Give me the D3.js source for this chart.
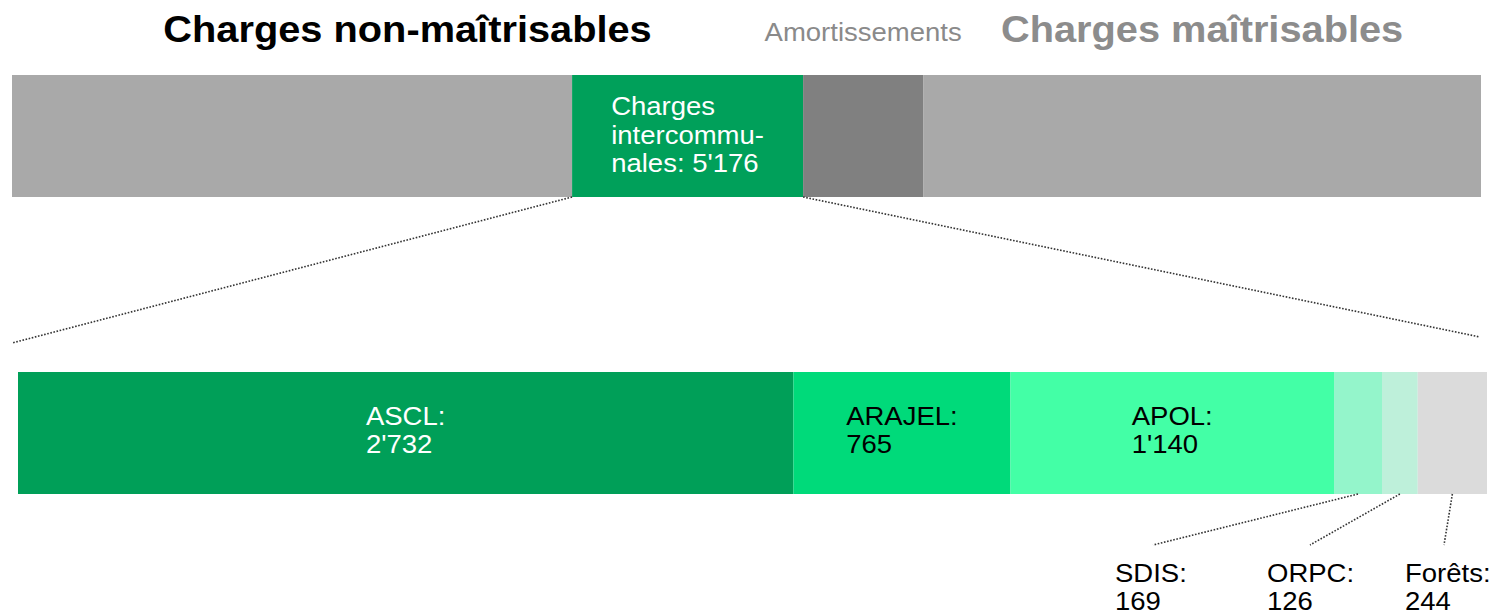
<!DOCTYPE html>
<html>
<head>
<meta charset="utf-8">
<script src="https://cdn.jsdelivr.net/npm/d3@7"></script>
<style>
  body { margin: 0; background: #fff; }
  text { font-family: "Liberation Sans", Arial, sans-serif; }
</style>
</head>
<body>
<div id="chart"></div>
<script>
// top bar: total charges split in 4 parts
const topParts = ["Autres charges non-maîtrisables", "Charges intercommunales", "Amortissements", "Charges maîtrisables"]
const topValues = [12550, 5176, 2690, 12500]
const topColors = ["#a9a9a9", "#00a05a", "#808080", "#a9a9a9"]

// headings above the top bar and which parts they cover
const headings = ["Charges non-maîtrisables", "Amortissements", "Charges maîtrisables"]
const headingParts = [[0, 1], [2, 2], [3, 3]]

// detail of the intercommunal charges
const subParts = ["ASCL", "ARAJEL", "APOL", "SDIS", "ORPC", "Forêts"]
const subValues = [2732, 765, 1140, 169, 126, 244]
const subColors = ["#009f58", "#00da7a", "#43ffa6", "#94f5cb", "#bef0da", "#dbdbdb"]
const outsideParts = ["SDIS", "ORPC", "Forêts"]

const W = 1495, H = 614
const STRETCH = 1.1   // the source is a bit wider than tall
const TOP = {x0: 12, x1: 1481, y: 75, h: 122}
const SUB = {x0: 18, x1: 1487, y: 372, h: 122}
const FS = 25, LH = 28.5

const fmt = d3.formatLocale({decimal: ".", thousands: "'", grouping: [3], currency: ["", ""]}).format(",")

const svg = d3.select("#chart").append("svg")
  .attr("width", W)
  .attr("height", H)

function stack(values) {
  let acc = 0
  return values.map(function(v, i) {
    const d = {i: i, start: acc, end: acc + v, value: v}
    acc += v
    return d
  })
}

const topData = stack(topValues)
const subData = stack(subValues)

const xTop = d3.scaleLinear()
  .domain([0, d3.sum(topValues)])
  .range([TOP.x0, TOP.x1])

const xSub = d3.scaleLinear()
  .domain([0, d3.sum(subValues)])
  .range([SUB.x0, SUB.x1])

// multi line label, left aligned, block centred on (cx, cy)
function label(lines, cx, cy, color, size, anchorLeft) {
  const g = svg.append("g")
  const t = g.append("text")
    .attr("font-size", size + "px")
    .attr("fill", color)
  lines.forEach(function(l, k) {
    t.append("tspan").attr("x", 0).attr("dy", k == 0 ? 0 : LH).text(l)
  })
  const w = t.node().getBBox().width * STRETCH
  const cap = size * 0.716
  const y0 = cy - (lines.length - 1) * LH / 2 + cap / 2
  const x0 = anchorLeft ? cx : cx - w / 2
  g.attr("transform", `translate(${x0}, ${y0}) scale(${STRETCH}, 1)`)
  return g
}

function dottedLine(x1, y1, x2, y2) {
  svg.append("line")
    .attr("x1", x1).attr("y1", y1)
    .attr("x2", x2).attr("y2", y2)
    .attr("stroke", "#333")
    .attr("stroke-width", 1.6)
    .attr("stroke-dasharray", "1.6,1.6")
}

// top bar
svg.append("g").selectAll("rect")
  .data(topData)
  .enter().append("rect")
    .attr("x", function(d) { return xTop(d.start) })
    .attr("y", TOP.y)
    .attr("width", function(d) { return xTop(d.end) - xTop(d.start) })
    .attr("height", TOP.h)
    .attr("fill", function(d) { return topColors[d.i] })

// headings
const headStyle = [
  {color: "#000", size: 37, weight: "bold", sx: 1.075},
  {color: "#8a8a8a", size: 25, weight: "normal", sx: 1.1},
  {color: "#8c8c8c", size: 37, weight: "bold", sx: 1.075}
]
headings.forEach(function(h, k) {
  const p = headingParts[k]
  const cx = (xTop(topData[p[0]].start) + xTop(topData[p[1]].end)) / 2
  const s = headStyle[k]
  svg.append("text")
    .attr("text-anchor", "middle")
    .attr("font-size", s.size + "px")
    .attr("font-weight", s.weight)
    .attr("fill", s.color)
    .attr("transform", `translate(${cx}, ${k == 1 ? 41 : 42}) scale(${s.sx}, 1)`)
    .text(h)
})

// label of the intercommunal part
const inter = topData[1]
label(["Charges", "intercommu-", "nales: " + fmt(inter.value)],
  (xTop(inter.start) + xTop(inter.end)) / 2, TOP.y + TOP.h / 2 - 1, "#fff", FS)

// zoom lines from top bar to detail bar
dottedLine(xTop(inter.start), TOP.y + TOP.h, xSub(0) - 6, 343)
dottedLine(xTop(inter.end), TOP.y + TOP.h, xSub(d3.sum(subValues)) - 7, 337)

// detail bar
svg.append("g").selectAll("rect")
  .data(subData)
  .enter().append("rect")
    .attr("x", function(d) { return xSub(d.start) })
    .attr("y", SUB.y)
    .attr("width", function(d) { return xSub(d.end) - xSub(d.start) })
    .attr("height", SUB.h)
    .attr("fill", function(d) { return subColors[d.i] })

// labels inside / below
const calloutX = [1115, 1267, 1405]
const calloutDx = [38, 43, 39]
subData.forEach(function(d) {
  const name = subParts[d.i]
  const lines = [name + ":", fmt(d.value)]
  const cx = (xSub(d.start) + xSub(d.end)) / 2
  const k = outsideParts.indexOf(name)
  if (k < 0) {
    label(lines, cx, SUB.y + SUB.h / 2 - 3, d.i == 0 ? "#fff" : "#000", FS)
  } else {
    dottedLine(cx, SUB.y + SUB.h, calloutX[k] + calloutDx[k], 545)
    label(lines, calloutX[k], 587, "#000", FS, true)
  }
})
</script>
</body>
</html>
